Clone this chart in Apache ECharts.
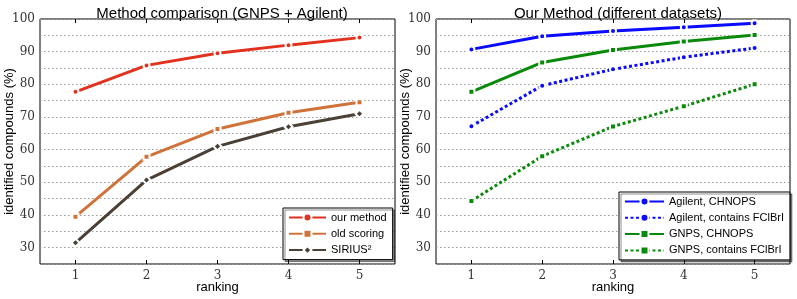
<!DOCTYPE html>
<html><head><meta charset="utf-8">
<script src="https://cdn.jsdelivr.net/npm/echarts@6/dist/echarts.min.js"></script>
<style>html,body{margin:0;padding:0;background:#fff}#c{width:797px;height:299px}</style>
</head><body><div id="c"></div>
<script>
const categories = ['1','2','3','4','5'];
// Left panel
const ourMethod   = [77.7, 85.8, 89.5, 92.0, 94.3];
const oldScoring  = [39.5, 57.8, 66.3, 71.3, 74.5];
const sirius      = [31.5, 50.7, 61.0, 67.0, 71.0];
// Right panel
const agilentCHNOPS = [90.7, 94.7, 96.3, 97.5, 98.7];
const agilentFClBrI = [67.2, 79.6, 84.6, 88.3, 91.1];
const gnpsCHNOPS    = [77.7, 86.7, 90.5, 93.1, 95.1];
const gnpsFClBrI    = [44.3, 58.0, 67.1, 73.3, 80.0];

const serif = 'DejaVu Serif';
const sans = 'Liberation Sans';

function xAx(gi, pos) {
  return {
    type: 'category', data: categories, gridIndex: gi, position: pos,
    boundaryGap: true,
    axisLine: { show: false },
    axisTick: { show: true, inside: true, alignWithLabel: true, length: 4, lineStyle: { color: '#000' } },
    axisLabel: { show: pos === 'bottom', fontFamily: serif, fontSize: 12, color: '#333', margin: 6 },
    splitLine: { show: false },
    name: pos === 'bottom' ? 'ranking' : '', nameLocation: 'middle', nameGap: 17, nameMoveOverlap: false,
    nameTextStyle: { fontFamily: sans, fontSize: 13, color: '#000' }
  };
}
function yAx(gi) {
  return {
    type: 'value', gridIndex: gi, min: 25, max: 100, interval: 5,
    axisLine: { show: false }, axisTick: { show: false },
    axisLabel: { fontFamily: serif, fontSize: 12, color: '#333', margin: 5,
      formatter: v => (v % 10 === 0 && v >= 30) ? String(v) : '' },
    splitLine: { show: true, lineStyle: { color: '#999', type: [1.5, 2.5], width: 1 } },
    name: 'identified compounds (%)', nameLocation: 'middle', nameGap: 24, nameMoveOverlap: false,
    nameTextStyle: { fontFamily: sans, fontSize: 13, color: '#000' }
  };
}
function ser(name, data, color, symbol, gi, dash) {
  return {
    type: 'line', name, data, xAxisIndex: gi * 2, yAxisIndex: gi,
    symbol, symbolSize: symbol === 'diamond' ? 8 : 6,
    showAllSymbol: true,
    lineStyle: { color, width: 3, type: dash || 'solid' },
    itemStyle: { color, borderColor: '#fff', borderWidth: 2 },
    emphasis: { disabled: true }, animation: false, z: 3
  };
}
const legendCommon = {
  orient: 'vertical', itemHeight: 10, itemGap: 5.3, padding: [4, 6, 4, 5],
  backgroundColor: '#fff', borderColor: '#000', borderWidth: 1, borderRadius: 0,
  shadowColor: 'rgba(0,0,0,0.45)', shadowOffsetX: 2, shadowOffsetY: 2, shadowBlur: 0,
  textStyle: { fontFamily: sans, fontSize: 11, color: '#000' }, selectedMode: false
};

const chart = echarts.init(document.getElementById('c'), null, { renderer: 'canvas' });
chart.setOption({
  animation: false,
  title: [
    { text: 'Method comparison (GNPS + Agilent)', left: 217, top: 1, textAlign: 'center',
      textStyle: { fontFamily: sans, fontSize: 15, fontWeight: 'normal', color: '#000' } },
    { text: 'Our Method (different datasets)', left: 613, top: 1, textAlign: 'center',
      textStyle: { fontFamily: sans, fontSize: 15, fontWeight: 'normal', color: '#000' } }
  ],
  grid: [
    { left: 40, top: 19, width: 355, height: 245, show: true, borderColor: '#000', borderWidth: 1,
      backgroundColor: 'transparent', containLabel: false, outerBoundsMode: 'none' },
    { left: 436, top: 19, width: 354, height: 245, show: true, borderColor: '#000', borderWidth: 1,
      backgroundColor: 'transparent', containLabel: false, outerBoundsMode: 'none' }
  ],
  xAxis: [xAx(0, 'bottom'), xAx(0, 'top'), xAx(1, 'bottom'), xAx(1, 'top')],
  yAxis: [yAx(0), yAx(1)],
  legend: [
    Object.assign({ data: ['our method', 'old scoring', 'SIRIUS²'], left: 283, top: 208, itemWidth: 37 }, legendCommon),
    Object.assign({ data: ['Agilent, CHNOPS', 'Agilent, contains FClBrI', 'GNPS, CHNOPS', 'GNPS, contains FClBrI'],
      left: 619, top: 192, itemWidth: 39 }, legendCommon)
  ],
  series: [
    ser('our method', ourMethod, '#e2321e', 'circle', 0),
    ser('old scoring', oldScoring, '#d0733a', 'rect', 0),
    ser('SIRIUS²', sirius, '#4a4036', 'diamond', 0),
    ser('Agilent, CHNOPS', agilentCHNOPS, '#0a0aff', 'circle', 1),
    ser('Agilent, contains FClBrI', agilentFClBrI, '#0a0aff', 'circle', 1, [3, 2.5]),
    ser('GNPS, CHNOPS', gnpsCHNOPS, '#0a8a0a', 'rect', 1),
    ser('GNPS, contains FClBrI', gnpsFClBrI, '#0a8a0a', 'rect', 1, [3, 2.5])
  ]
});
</script></body></html>
